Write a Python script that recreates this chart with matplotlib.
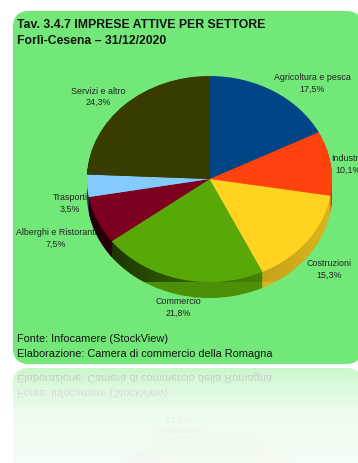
import numpy as np
import matplotlib
matplotlib.use("Agg")
import matplotlib.pyplot as plt
from matplotlib.patches import FancyBboxPatch, PathPatch
from matplotlib.path import Path
from matplotlib.textpath import TextPath
from matplotlib.font_manager import FontProperties
from matplotlib.colors import to_rgb, LinearSegmentedColormap

sectors = ["Agricoltura e pesca", "Industria", "Costruzioni", "Commercio",
           "Alberghi e Ristoranti", "Trasporti", "Servizi e altro"]
shares = [17.5, 10.1, 15.3, 21.8, 7.5, 3.5, 24.3]
share_labels = ["17,5%", "10,1%", "15,3%", "21,8%", "7,5%", "3,5%", "24,3%"]
colors = ["#004586", "#ff420e", "#ffd320", "#58a808", "#7e0021", "#83caff", "#383c00"]
title_lines = ["Tav. 3.4.7 IMPRESE ATTIVE PER SETTORE", "Forlì-Cesena – 31/12/2020"]
source_lines = ["Fonte: Infocamere (StockView)", "Elaborazione: Camera di commercio della Romagna"]

W, H = 358, 464
PANEL = "#72e878"
MIRROR_Y = 367
CX, CY, RX, RY, DEPTH = 209.5, 180, 122.5, 103, 16
FONT = "Liberation Sans"

plt.rcParams["font.family"] = [FONT, "DejaVu Sans"]
fig = plt.figure(figsize=(W / 100, H / 100), dpi=100, facecolor="white")


def pixel_axes(zorder):
    ax = fig.add_axes([0, 0, 1, 1], zorder=zorder)
    ax.set_xlim(0, W)
    ax.set_ylim(H, 0)
    ax.axis("off")
    ax.patch.set_alpha(0)
    return ax


def pie_axes(center_y, flip, zorder):
    ax = fig.add_axes([(CX - RX) / W, 1 - (center_y + RY) / H, 2 * RX / W, 2 * RY / H],
                      zorder=zorder)
    ax.patch.set_alpha(0)
    draw_pie(ax)
    ax.set_aspect("auto")
    ax.set_xlim(-1, 1)
    ax.set_ylim((1, -1) if flip else (-1, 1))
    ax.axis("off")
    for artist in ax.patches:
        artist.set_clip_on(False)
    return ax


def shade(colour, factor):
    return tuple(c * factor for c in to_rgb(colour))


def draw_pie(ax):
    depth = DEPTH / RY
    # Extruded rim: stacked copies of the disc, then the top face
    for step in np.linspace(depth, 0.005, 24):
        ax.pie(shares, startangle=90, counterclock=False, radius=1, center=(0, -step),
               colors=[shade(c, 0.86) for c in colors],
               wedgeprops={"linewidth": 0}, frame=False)
    # Side shading: darker towards the left of the rim
    t = np.linspace(np.pi, 2 * np.pi, 120)
    rim = np.vstack([np.c_[np.cos(t), np.sin(t) - depth],
                     np.c_[np.cos(t[::-1]), np.sin(t[::-1])]])
    rim_path = PathPatch(Path(rim), transform=ax.transData, fc="none", lw=0)
    ax.add_patch(rim_path)
    cmap = LinearSegmentedColormap.from_list(
        "rim", [(0, 0, 0, 0.72), (0, 0, 0, 0.42), (0, 0, 0, 0.12), (0, 0, 0, 0.0)])
    img = ax.imshow(np.linspace(0, 1, 256)[None, :], cmap=cmap, aspect="auto",
                    extent=(-1, 1, -1.3, 1), zorder=3)
    img.set_clip_path(rim_path)
    wedges, _ = ax.pie(shares, startangle=90, counterclock=False, radius=1,
                       colors=colors, wedgeprops={"linewidth": 0}, frame=False)
    for wedge in wedges:
        wedge.set_zorder(4)


# Reflection of the panel below the chart
back = pixel_axes(1)
back.add_patch(FancyBboxPatch((13, MIRROR_Y + 2), 349, 353,
                              boxstyle="round,pad=0,rounding_size=16",
                              fc=PANEL, ec="none"))
pie_axes(2 * MIRROR_Y - CY, True, 2)

mirror = pixel_axes(3)
mirror.add_patch(FancyBboxPatch((13, MIRROR_Y + 2), 349, 353,
                                boxstyle="round,pad=0,rounding_size=16",
                                fc=PANEL, ec="none", alpha=0.7))
regular = FontProperties(family=FONT)


def mirrored_text(x, baseline, text, px, centre=False):
    path = TextPath((0, 0), text, size=px, prop=regular)
    if centre:
        x -= path.get_extents().width / 2
    path = TextPath((x, 2 * MIRROR_Y - baseline), text, size=px, prop=regular)
    mirror.add_patch(PathPatch(path, fc="#555555", ec="none"))


mirrored_text(17, 343, source_lines[0], 11)
mirrored_text(17, 358, source_lines[1], 11)
mirrored_text(178, 305, sectors[3], 8.9, centre=True)
mirrored_text(178, 316, share_labels[3], 8.9, centre=True)

fade = pixel_axes(4)
alpha = np.interp(np.linspace(MIRROR_Y, H, 200), [MIRROR_Y, 385, 415, H], [0.62, 0.74, 0.88, 0.93])
overlay = np.ones((200, 1, 4))
overlay[:, 0, 3] = alpha
fade.imshow(overlay, extent=(0, W, H, MIRROR_Y), aspect="auto", zorder=2)
fade.set_xlim(0, W)
fade.set_ylim(H, 0)
fade.add_patch(plt.Rectangle((0, 360), W, MIRROR_Y - 360, fc="white", ec="none", zorder=1))

# Main panel
panel_ax = pixel_axes(5)
panel = FancyBboxPatch((13, 12), 349, 353, boxstyle="round,pad=0,rounding_size=16",
                       fc=PANEL, ec="none")
panel_ax.add_patch(panel)

pie_axes(CY, False, 6)

# Texts sit above the pie
text_ax = pixel_axes(7)
for i, line in enumerate(title_lines):
    text_ax.text(17, 25 + 16.5 * i, line, fontsize=8.8, fontweight="bold", color="#141414",
                 va="center", ha="left")
label_xy = [(312, 78), (348, 159), (329, 264), (178, 302), (56, 233), (70, 198), (98, 91)]
for (x, y), name, value in zip(label_xy, sectors, share_labels):
    text_ax.text(x, y, name, fontsize=6.4, color="#222222", ha="center", va="center")
    text_ax.text(x, y + 11, value, fontsize=6.4, color="#222222", ha="center", va="center")
for i, line in enumerate(source_lines):
    t = text_ax.text(17, 339 + 15.5 * i, line, fontsize=7.9, color="#141414",
                     va="center", ha="left")
    t.set_clip_path(FancyBboxPatch((13, 12), 349, 353, boxstyle="round,pad=0,rounding_size=16",
                                   transform=text_ax.transData))

fig.savefig("out.png", dpi=100, facecolor="white")
